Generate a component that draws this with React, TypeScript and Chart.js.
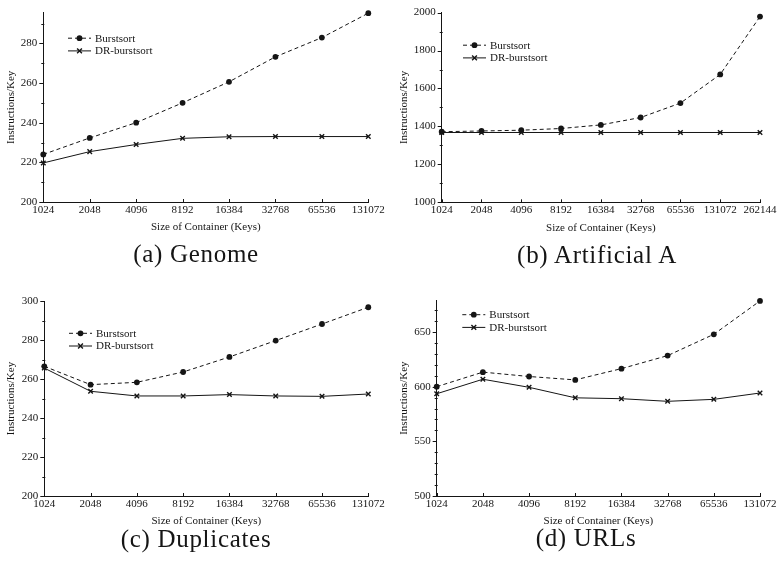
import React, { useEffect, useRef } from 'react';
import { Chart, registerables } from 'chart.js';

Chart.register(...registerables);

// ---------------- data ----------------
const sizes8 = ['1024', '2048', '4096', '8192', '16384', '32768', '65536', '131072'];
const sizes9 = ['1024', '2048', '4096', '8192', '16384', '32768', '65536', '131072', '262144'];

const seriesNames = ['Burstsort', 'DR-burstsort'];

const genomeBurst = [224, 232.3, 240, 250, 260.6, 273.2, 282.9, 295.2];
const genomeDR = [219.7, 225.4, 229, 232.1, 232.9, 233, 233, 233];

const artificialBurst = [1372, 1376, 1380, 1389, 1408, 1447, 1523, 1674, 1979];
const artificialDR = [1368, 1368, 1368, 1368, 1368, 1368, 1368, 1368, 1368];

const duplicatesBurst = [266.5, 257.1, 258.3, 263.6, 271.3, 279.7, 288.2, 296.8];
const duplicatesDR = [265.6, 253.7, 251.3, 251.3, 252, 251.3, 251.1, 252.3];

const urlsBurst = [600, 613.3, 609.3, 606.2, 616.5, 628.4, 647.9, 678.4];
const urlsDR = [593.5, 606.8, 599.4, 589.8, 589, 586.6, 588.4, 594.2];

const genomeTicks = [200, 220, 240, 260, 280];
const artificialTicks = [1000, 1200, 1400, 1600, 1800, 2000];
const duplicatesTicks = [200, 220, 240, 260, 280, 300];
const urlsTicks = [500, 550, 600, 650];

const xTitle = 'Size of Container (Keys)';
const yTitle = 'Instructions/Key';
const captions = ['(a) Genome', '(b) Artificial A', '(c) Duplicates', '(d) URLs'];

// ---------------- layout / style ----------------
const INK = '#151515';
const SERIF = "'Liberation Serif', 'Times New Roman', serif";

type PanelCfg = {
  px: number; py: number;
  labels: string[];
  burst: number[]; dr: number[];
  yMin: number; yMax: number; yMajor: number[]; yMinorStep: number;
  yAxisW: number; padTop: number; padRight: number; padBottom: number;
  yTitlePad: number; legendDx: number; legendDy: number;
  caption: string; capCenter: number; capBaseline: number;
};

const panels: PanelCfg[] = [
  {
    px: 0, py: 0, labels: sizes8, burst: genomeBurst, dr: genomeDR,
    yMin: 200, yMax: 295.5, yMajor: genomeTicks, yMinorStep: 10,
    yAxisW: 43.3, padTop: 6.7, padRight: 20.7, padBottom: 45,
    yTitlePad: 5, legendDx: 24.7, legendDy: 25.6,
    caption: captions[0], capCenter: 196, capBaseline: 262,
  },
  {
    px: 389, py: 0, labels: sizes9, burst: artificialBurst, dr: artificialDR,
    yMin: 1000, yMax: 2000, yMajor: artificialTicks, yMinorStep: 100,
    yAxisW: 52.7, padTop: 10.7, padRight: 16.7, padBottom: 44.7,
    yTitlePad: 8.4, legendDx: 21.3, legendDy: 32.6,
    caption: captions[1], capCenter: 597, capBaseline: 262.5,
  },
  {
    px: 0, py: 281, labels: sizes8, burst: duplicatesBurst, dr: duplicatesDR,
    yMin: 200, yMax: 300, yMajor: duplicatesTicks, yMinorStep: 10,
    yAxisW: 44.3, padTop: 20, padRight: 20.7, padBottom: 32,
    yTitlePad: 4.1, legendDx: 24.7, legendDy: 32.3,
    caption: captions[2], capCenter: 196, capBaseline: 547,
  },
  {
    px: 389, py: 281, labels: sizes8, burst: urlsBurst, dr: urlsDR,
    yMin: 500, yMax: 679, yMajor: urlsTicks, yMinorStep: 10,
    yAxisW: 47.7, padTop: 19.3, padRight: 16.7, padBottom: 32,
    yTitlePad: 8.4, legendDx: 25.6, legendDy: 14.4,
    caption: captions[3], capCenter: 586, capBaseline: 546,
  },
];

function drawMarker(ctx: CanvasRenderingContext2D, kind: number, x: number, y: number) {
  ctx.save();
  ctx.setLineDash([]);
  if (kind === 0) {
    ctx.fillStyle = INK;
    ctx.beginPath();
    ctx.arc(x, y, 2.9, 0, Math.PI * 2);
    ctx.fill();
  } else {
    ctx.strokeStyle = INK;
    ctx.lineWidth = 1.4;
    ctx.beginPath();
    ctx.moveTo(x - 2.4, y - 2.4);
    ctx.lineTo(x + 2.4, y + 2.4);
    ctx.moveTo(x + 2.4, y - 2.4);
    ctx.lineTo(x - 2.4, y + 2.4);
    ctx.stroke();
  }
  ctx.restore();
}

function makePlugins(cfg: PanelCfg) {
  const ticksPlugin = {
    id: 'axisTicks',
    afterDraw(chart: any) {
      const ctx: CanvasRenderingContext2D = chart.ctx;
      const ys = chart.scales.y;
      const xs = chart.scales.x;
      const area = chart.chartArea;
      ctx.save();
      ctx.strokeStyle = INK;
      ctx.lineWidth = 1;
      ctx.beginPath();
      for (const v of cfg.yMajor) {
        const p = Math.round(ys.getPixelForValue(v)) + 0.5;
        ctx.moveTo(area.left - 4, p);
        ctx.lineTo(area.left, p);
      }
      for (let v = cfg.yMin; v <= cfg.yMax + 1e-6; v += cfg.yMinorStep) {
        if (cfg.yMajor.indexOf(v) >= 0) continue;
        const p = Math.round(ys.getPixelForValue(v)) + 0.5;
        ctx.moveTo(area.left - 2, p);
        ctx.lineTo(area.left + 1, p);
      }
      for (let i = 0; i < cfg.labels.length; i++) {
        const p = Math.round(xs.getPixelForValue(i)) + 0.5;
        ctx.moveTo(p, area.bottom);
        ctx.lineTo(p, area.bottom - 3);
      }
      ctx.stroke();
      ctx.restore();
    },
  };

  const legendPlugin = {
    id: 'insideLegend',
    afterDraw(chart: any) {
      const ctx: CanvasRenderingContext2D = chart.ctx;
      const area = chart.chartArea;
      chart.data.datasets.forEach((ds: any, i: number) => {
        const x0 = area.left + cfg.legendDx;
        const y = area.top + cfg.legendDy + i * 12.7;
        ctx.save();
        ctx.strokeStyle = INK;
        ctx.lineWidth = 1;
        ctx.setLineDash(ds.borderDash || []);
        ctx.beginPath();
        ctx.moveTo(x0, y);
        ctx.lineTo(x0 + 23, y);
        ctx.stroke();
        ctx.restore();
        drawMarker(ctx, i, x0 + 11.5, y);
        ctx.save();
        ctx.fillStyle = INK;
        ctx.font = `11px ${SERIF}`;
        ctx.textBaseline = 'middle';
        ctx.textAlign = 'left';
        ctx.fillText(ds.label, x0 + 27, y + 0.5);
        ctx.restore();
      });
    },
  };
  return [ticksPlugin, legendPlugin];
}

function Panel({ cfg }: { cfg: PanelCfg }) {
  const ref = useRef<HTMLCanvasElement>(null);
  useEffect(() => {
    const tickFont = { family: SERIF, size: 11 };
    const titleFont = { family: SERIF, size: 11 };
    const chart = new Chart(ref.current as HTMLCanvasElement, {
      type: 'line',
      data: {
        labels: cfg.labels,
        datasets: [
          {
            label: seriesNames[0],
            data: cfg.burst,
            borderColor: INK,
            backgroundColor: INK,
            borderWidth: 1,
            borderDash: [4, 3],
            pointStyle: 'circle',
            pointRadius: 2.9,
            pointBorderWidth: 0,
            pointBackgroundColor: INK,
            tension: 0,
            fill: false,
            clip: false,
          },
          {
            label: seriesNames[1],
            data: cfg.dr,
            borderColor: INK,
            backgroundColor: INK,
            borderWidth: 1,
            pointStyle: 'crossRot',
            pointRadius: 3.2,
            pointBorderWidth: 1.4,
            pointBorderColor: INK,
            tension: 0,
            fill: false,
            clip: false,
          },
        ],
      },
      options: {
        animation: false,
        responsive: false,
        maintainAspectRatio: false,
        events: [],
        layout: {
          padding: { left: 0, top: cfg.padTop, right: cfg.padRight, bottom: cfg.padBottom },
        },
        plugins: {
          legend: { display: false },
          tooltip: { enabled: false },
          title: { display: false },
        },
        scales: {
          x: {
            type: 'category',
            offset: false,
            grid: { display: true, drawOnChartArea: false, drawTicks: false },
            border: { display: true, color: INK, width: 1 },
            ticks: { font: tickFont, color: INK, padding: 1.5, maxRotation: 0, autoSkip: false },
            title: { display: true, text: xTitle, font: titleFont, color: INK, padding: { top: 0, bottom: 2 } },
            afterFit: (s: any) => { s.height = 34; },
          },
          y: {
            type: 'linear',
            min: cfg.yMin,
            max: cfg.yMax,
            afterBuildTicks: (s: any) => { s.ticks = cfg.yMajor.map((v) => ({ value: v })); },
            grid: { display: true, drawOnChartArea: false, drawTicks: false },
            border: { display: true, color: INK, width: 1 },
            ticks: { font: tickFont, color: INK, padding: 6, callback: (v: any) => String(v) },
            title: { display: true, text: yTitle, font: titleFont, color: INK, padding: { top: cfg.yTitlePad, bottom: 0 } },
            afterFit: (s: any) => { s.width = cfg.yAxisW; },
          },
        },
      },
      plugins: makePlugins(cfg),
    } as any);
    return () => chart.destroy();
  }, [cfg]);
  return (
    <canvas
      ref={ref}
      width={389}
      height={281}
      style={{ position: 'absolute', left: cfg.px, top: cfg.py, width: 389, height: 281 }}
    />
  );
}

export default function App() {
  return (
    <div
      style={{
        position: 'fixed', left: 0, top: 0, width: 778, height: 562,
        background: '#fff', overflow: 'hidden',
      }}
    >
      {panels.map((p, i) => (
        <Panel key={i} cfg={p} />
      ))}
      {panels.map((p, i) => (
        <div
          key={'c' + i}
          style={{
            position: 'absolute',
            left: p.capCenter - 150,
            width: 300,
            top: p.capBaseline - 21,
            fontFamily: SERIF,
            fontSize: 25,
            lineHeight: '25px',
            letterSpacing: '0.7px',
            textAlign: 'center',
            color: INK,
            whiteSpace: 'nowrap',
          }}
        >
          {p.caption}
        </div>
      ))}
    </div>
  );
}
